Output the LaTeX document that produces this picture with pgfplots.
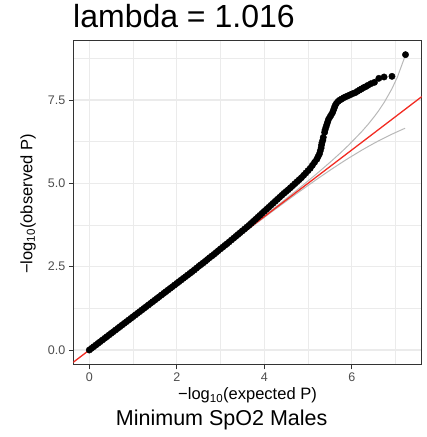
\documentclass[border=0pt]{standalone}
\usepackage{pgfplots}
\pgfplotsset{compat=1.18}
\usepackage{fontspec}
\setmainfont{Liberation Sans}
\definecolor{gridc}{HTML}{EBEBEB}
\definecolor{borderc}{HTML}{333333}
\definecolor{tickc}{HTML}{4D4D4D}
\definecolor{cigrey}{HTML}{B8B8B8}
\definecolor{redl}{HTML}{F22B22}
\begin{document}
\begin{tikzpicture}[x=1pt,y=1pt]
\path[use as bounding box] (0,0) rectangle (427,437);
\begin{axis}[
  at={(73.3pt,72.2pt)}, anchor=south west, scale only axis,
  width=348.4pt, height=324.8pt,
  xmin=-0.366, xmax=7.60, ymin=-0.443, ymax=9.30,
  xtick={0,2,4,6}, ytick={0,2.5,5,7.5},
  xticklabels={0,2,4,6}, yticklabels={0.0,2.5,5.0,7.5},
  minor xtick={1,3,5,7}, minor ytick={1.25,3.75,6.25,8.75},
  grid=both,
  major grid style={gridc, line width=1.1pt},
  minor grid style={gridc, line width=0.55pt},
  axis line style={borderc, line width=0.9pt},
  tick align=outside, major tick length=4.5pt, minor tick length=0pt,
  xtick pos=bottom, ytick pos=left,
  tick style={borderc, line width=0.8pt},
  ticklabel style={font=\fontsize{12.5}{15}\selectfont, text=tickc},
  xticklabel style={yshift=0pt},
  yticklabel style={xshift=0pt},
  clip=true,
]
\addplot[cigrey, line width=1pt] coordinates {
(0,0) (2.22,2.2227) (3.22,3.2285) (4.22,4.247) (4.743,4.794) (5.22,5.31) (5.521,5.651) (5.743,5.914) (5.919,6.133) (6.22,6.539) (6.375,6.771) (6.521,7.010) (6.618,7.183) (6.743,7.429) (6.919,7.836) (7.044,8.187) (7.22,8.817)};
\addplot[cigrey, line width=1pt] coordinates {
(0,0) (2.22,2.2173) (3.22,3.2115) (4.22,4.193) (4.743,4.695) (5.22,5.139) (5.521,5.409) (5.743,5.600) (5.919,5.748) (6.22,5.987) (6.375,6.104) (6.521,6.210) (6.618,6.277) (6.743,6.361) (6.919,6.474) (7.044,6.550) (7.22,6.653)};
\addplot[only marks, mark=*, mark size=3.2pt, black] coordinates {
(0.00,0.00) (0.05,0.05) (0.10,0.10) (0.15,0.15) (0.20,0.20) (0.25,0.25) (0.30,0.30) (0.35,0.35) (0.40,0.40) (0.45,0.45)
(0.50,0.50) (0.55,0.55) (0.60,0.60) (0.65,0.65) (0.70,0.70) (0.75,0.75) (0.80,0.80) (0.85,0.85) (0.90,0.90) (0.95,0.95)
(1.00,1.00) (1.05,1.05) (1.10,1.10) (1.15,1.15) (1.20,1.20) (1.25,1.25) (1.30,1.30) (1.35,1.35) (1.40,1.40) (1.45,1.45)
(1.50,1.50) (1.55,1.55) (1.60,1.60) (1.65,1.65) (1.70,1.70) (1.75,1.75) (1.80,1.80) (1.85,1.85) (1.90,1.90) (1.95,1.95)
(2.00,2.00) (2.05,2.05) (2.10,2.10) (2.15,2.15) (2.20,2.20) (2.25,2.25) (2.30,2.30) (2.35,2.35) (2.40,2.40) (2.45,2.455)
(2.50,2.51) (2.55,2.56) (2.60,2.61) (2.65,2.66) (2.70,2.715) (2.75,2.77) (2.80,2.82) (2.85,2.87) (2.90,2.925) (2.95,2.98)
(3.00,3.035) (3.05,3.085) (3.10,3.14) (3.15,3.19) (3.20,3.245) (3.25,3.30) (3.30,3.355) (3.35,3.41) (3.40,3.465) (3.45,3.52)
(3.50,3.575) (3.55,3.63) (3.60,3.685) (3.65,3.74) (3.70,3.80) (3.75,3.86) (3.80,3.92) (3.85,3.98) (3.90,4.04) (3.95,4.10)
(4.00,4.16) (4.05,4.22) (4.10,4.28) (4.15,4.34) (4.20,4.40) (4.25,4.46) (4.30,4.52) (4.35,4.58) (4.40,4.64) (4.45,4.70)
(4.50,4.755) (4.55,4.81) (4.60,4.87) (4.65,4.93) (4.70,4.99) (4.75,5.05) (4.80,5.11) (4.85,5.17) (4.90,5.24) (4.95,5.31)
(5.00,5.38) (5.05,5.45) (5.10,5.54) (5.15,5.63) (5.20,5.72) (5.23,5.80) (5.26,5.88) (5.28,5.97) (5.30,6.06) (5.31,6.15)
(5.32,6.22) (5.34,6.30) (5.35,6.38) (5.38,6.53) (5.39,6.60) (5.41,6.68) (5.43,6.76) (5.45,6.84) (5.47,6.92) (5.50,6.99)
(5.53,7.05) (5.56,7.12) (5.58,7.19) (5.60,7.26) (5.62,7.33) (5.65,7.40) (5.69,7.46) (5.73,7.50) (5.77,7.53) (5.82,7.57)
(5.87,7.60) (5.92,7.63) (5.97,7.66) (6.02,7.69) (6.08,7.72) (6.13,7.76) (6.18,7.80) (6.22,7.83) (6.27,7.87) (6.32,7.90)
(6.37,7.94) (6.44,7.99) (6.52,8.03) (6.62,8.15) (6.74,8.19) (6.92,8.21) (7.23,8.86)};
\addplot[redl, line width=1.3pt] coordinates {(-1,-1) (8,8)};
\end{axis}
\node[anchor=base west, inner sep=0pt] at (73,409) {\fontsize{32}{38}\selectfont lambda = 1.016};
\node[anchor=base, inner sep=0pt] at (247.5,37) {\fontsize{16.5}{20}\selectfont −log\textsubscript{10}(expected P)};
\node[anchor=center, rotate=90, inner sep=0pt] at (28,233) {\fontsize{16.5}{20}\selectfont −log\textsubscript{10}(observed P)};
\node[anchor=base, inner sep=0pt] at (221.7,11) {\fontsize{21.5}{26}\selectfont Minimum SpO2 Males};
\end{tikzpicture}
\end{document}
